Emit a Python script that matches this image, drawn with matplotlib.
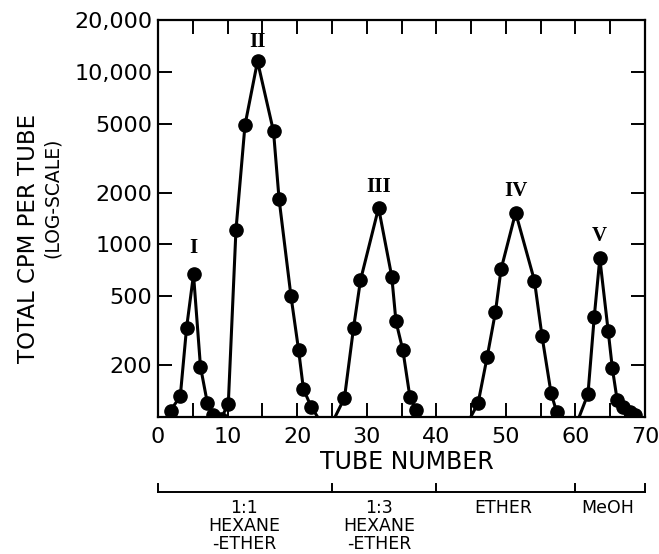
import numpy as np
import matplotlib
matplotlib.use("Agg")
import matplotlib.pyplot as plt
from matplotlib.ticker import FixedLocator, NullLocator

# tube number vs total cpm
tube = [1.8, 3.2, 4.1, 5.1, 6.1, 7.1, 7.9, 9.0, 10.1, 11.2, 12.5, 14.3, 16.6, 17.4,
        19.1, 20.2, 20.9, 22.0, 23.8, 25.0, 26.8, 28.1, 29.1, 31.7, 33.6, 34.2,
        35.2, 36.2, 37.1, 38.5, 44.0, 46.0, 47.3, 48.5, 49.3, 51.4, 54.1, 55.2,
        56.5, 57.3, 58.5, 60.0, 61.8, 62.7, 63.5, 64.7, 65.3, 66.0, 66.9, 67.9, 68.5]
cpm = [109, 132, 328, 670, 196, 120, 103, 97, 119, 1210, 4920, 11530, 4520, 1830,
       505, 245, 145, 115, 88, 92, 129, 328, 620, 1630, 650, 358,
       243, 131, 110, 88, 85, 120, 222, 406, 716, 1530, 618, 293,
       137, 107, 88, 88, 136, 380, 830, 316, 192, 125, 115, 107, 103]

peak_names = ["I", "II", "III", "IV", "V"]
peak_x = [5.1, 14.3, 31.7, 51.4, 63.5]
peak_y = [960, 14900, 2140, 2040, 1117]

ytick_vals = [200, 500, 1000, 2000, 5000, 10000, 20000]
ytick_text = ["200", "500", "1000", "2000", "5000", "10,000", "20,000"]

solvent_edges = [0, 25, 40, 60, 70]
solvent_x = [12.4, 31.8, 49.6, 64.6]
solvent_names = [["1:1", "HEXANE", "-ETHER"], ["1:3", "HEXANE", "-ETHER"],
                 ["ETHER"], ["MeOH"]]

fig = plt.figure(figsize=(6.59, 5.54), dpi=100)
ax = fig.add_axes([0.2398, 0.2473, 0.739, 0.7166])

ax.plot(tube, cpm, color="black", lw=2.2, marker="o", ms=9.5)
ax.set_yscale("log")
ax.set_ylim(100, 20000)
ax.set_xlim(0, 70)

ax.yaxis.set_major_locator(FixedLocator(ytick_vals))
ax.set_yticklabels(ytick_text)
ax.yaxis.set_minor_locator(NullLocator())
ax.set_xticks(range(0, 71, 10))
ax.set_xticks(range(5, 70, 10), minor=True)

ax.tick_params(which="both", direction="in", top=True, right=True,
               length=10, width=1.4, labelsize=16)
ax.tick_params(axis="y", pad=4)
ax.tick_params(axis="x", pad=7)
for s in ax.spines.values():
    s.set_linewidth(1.6)

for n, px, py in zip(peak_names, peak_x, peak_y):
    ax.text(px, py, n, ha="center", va="center", fontsize=15,
            family="Liberation Serif", weight="bold")

# y label: two lines placed separately
fig.text(29 / 659, 1 - 238 / 554, "TOTAL CPM PER TUBE", rotation=90,
         ha="center", va="center", fontsize=16.5)
fig.text(52 / 659, 1 - 198 / 554, "(LOG-SCALE)", rotation=90,
         ha="center", va="center", fontsize=13.5)

tr = ax.get_xaxis_transform()
ax.text(35.8, -0.113, "TUBE NUMBER", transform=tr, ha="center", va="center",
        fontsize=17)

# solvent bracket under the axis
ax.plot([solvent_edges[0], solvent_edges[-1]], [-0.189, -0.189], color="black",
        lw=1.4, transform=tr, clip_on=False)
for e in solvent_edges:
    ax.plot([e, e], [-0.189, -0.170], color="black", lw=1.4,
            transform=tr, clip_on=False)
for sx, lines in zip(solvent_x, solvent_names):
    for i, t in enumerate(lines):
        ax.text(sx, -0.229 - 0.046 * i, t, transform=tr, ha="center",
                va="center", fontsize=12.5)

fig.savefig("out.png", dpi=100)
